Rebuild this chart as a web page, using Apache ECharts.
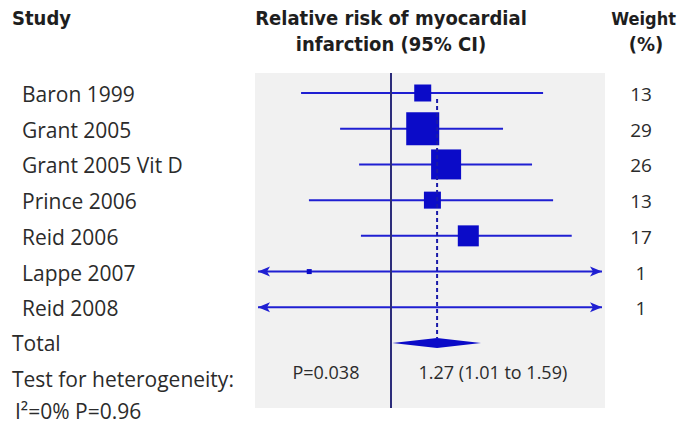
<!DOCTYPE html>
<html>
<head>
<meta charset="utf-8">
<script src="https://cdn.jsdelivr.net/npm/echarts@6/dist/echarts.min.js"></script>
<style>
html,body{margin:0;padding:0;background:#fff;}
#chart{width:677px;height:428px;}
</style>
</head>
<body>
<div id="chart"></div>
<script>
// ---- data ----
const studies = ['Baron 1999', 'Grant 2005', 'Grant 2005 Vit D', 'Prince 2006', 'Reid 2006', 'Lappe 2007', 'Reid 2008'];
const rr      = [1.18, 1.18, 1.33, 1.24, 1.49, 0.66, null];
const lower   = [0.633, 0.773, 0.852, 0.659, 0.86, 0.05, 0.05];
const upper   = [2.185, 1.78, 2.065, 2.30, 2.53, 10, 10];
const weights = [13, 29, 26, 13, 17, 1, 1];
const pooledRR = 1.27, pooledLower = 1.01, pooledUpper = 1.59;
const pooledText = '1.27 (1.01 to 1.59)';
const pText = 'P=0.038';
const footerRows = ['Total', 'Test for heterogeneity:', 'I\u00b2=0% P=0.96'];
const headers = {study: 'Study', effect: ['Relative risk of myocardial', 'infarction (95% CI)'], weight: ['Weight', '(%)']};

const BLUE = '#1f1fd2', SQ = '#0b0bc8', REF = '#2c2c7a', TXT = '#2b2b2b';
const FONT = "'Open Sans', 'Noto Sans', sans-serif";
const BOLD = "'Liberation Sans Narrow', 'DejaVu Sans Condensed', 'Roboto', sans-serif";

const chart = echarts.init(document.getElementById('chart'), null, {renderer: 'svg'});

function studyItem(params, api) {
  const i = params.dataIndex;
  const cs = params.coordSys;
  const y = api.coord([1, i])[1];
  let x0 = api.coord([lower[i], i])[0];
  let x1 = api.coord([upper[i], i])[0];
  const inset = 3;
  let aL = false, aR = false;
  if (x0 < cs.x + inset) { x0 = cs.x + inset; aL = true; }
  if (x1 > cs.x + cs.width - inset) { x1 = cs.x + cs.width - inset; aR = true; }
  const ch = [{type: 'line', shape: {x1: x0, y1: y, x2: x1, y2: y}, style: {stroke: BLUE, lineWidth: 2}}];
  if (aL) ch.push({type: 'polygon', shape: {points: [[x0, y], [x0 + 12, y - 5], [x0 + 9, y], [x0 + 12, y + 5]]}, style: {fill: BLUE}});
  if (aR) ch.push({type: 'polygon', shape: {points: [[x1, y], [x1 - 12, y - 5], [x1 - 9, y], [x1 - 12, y + 5]]}, style: {fill: BLUE}});
  if (rr[i] != null) {
    const s = 4 + weights[i];
    const cx = api.coord([rr[i], i])[0];
    ch.push({type: 'rect', shape: {x: cx - s / 2, y: y - s / 2, width: s, height: s}, style: {fill: SQ}});
  }
  return {type: 'group', children: ch};
}

function pooledItem(params, api) {
  const row = api.value(0);
  const y = api.coord([1, row])[1];
  const yTop = api.coord([1, 0])[1] + 6;
  const xl = api.coord([pooledLower, row])[0];
  const xc = api.coord([pooledRR, row])[0];
  const xr = api.coord([pooledUpper, row])[0];
  return {type: 'group', children: [
    {type: 'line', shape: {x1: xc, y1: yTop, x2: xc, y2: y - 5}, style: {stroke: '#1a1aa8', lineWidth: 2, lineDash: [4, 3]}},
    {type: 'polygon', shape: {points: [[xl, y], [xc, y - 5], [xr, y], [xc, y + 5]]}, style: {fill: SQ}}
  ]};
}

chart.setOption({
  animation: false,
  grid: {left: 255, width: 350, top: 73, height: 335, show: true, backgroundColor: '#f1f1f1', borderWidth: 0},
  xAxis: {type: 'log', min: 0.5, max: 3, show: false},
  yAxis: {type: 'value', inverse: true, min: -0.56, max: 8.82, show: false},
  series: [
    {
      type: 'custom', renderItem: studyItem, clip: false,
      data: studies.map((s, i) => [i, lower[i], upper[i]]),
      encode: {x: [1, 2], y: 0},
      markLine: {silent: true, symbol: 'none', label: {show: false},
        lineStyle: {color: REF, width: 2, type: 'solid'}, data: [{xAxis: 1}]}
    },
    {
      type: 'custom', renderItem: pooledItem, clip: false,
      data: [[studies.length, pooledLower, pooledUpper]],
      encode: {x: [1, 2], y: 0}
    }
  ]
});

// text laid out through the axes
function py(row) { return chart.convertToPixel({yAxisIndex: 0}, row); }
function px(v) { return chart.convertToPixel({xAxisIndex: 0}, v); }
const g = [];
const reg = {fontFamily: FONT, fontSize: 21, fill: TXT, textVerticalAlign: 'middle'};
studies.forEach((s, i) => {
  g.push({type: 'text', x: 22, y: py(i) + 1, style: Object.assign({text: s}, reg)});
  g.push({type: 'text', x: 641, y: py(i) + 1, style: Object.assign({text: String(weights[i]), textAlign: 'center'}, reg, {fontSize: 19})});
});
footerRows.forEach((s, k) => {
  g.push({type: 'text', x: k === 2 ? 15 : 12, y: py(studies.length + k) - (k === 2 ? 3 : 0), style: Object.assign({text: s}, reg)});
});
const midRow = studies.length + 0.8;
const small = {textAlign: 'center', textVerticalAlign: 'middle', fontFamily: FONT, fontSize: 18, fill: TXT};
g.push({type: 'text', x: px(0.719), y: py(midRow), style: Object.assign({text: pText}, small)});
g.push({type: 'text', x: px(1.69), y: py(midRow), style: Object.assign({text: pooledText}, small)});
const hb = {fontFamily: BOLD, fontSize: 20, fontWeight: 'bold', fill: '#1e1e1e', textVerticalAlign: 'middle'};
g.push({type: 'text', x: 12, y: 18, style: Object.assign({text: headers.study}, hb)});
g.push({type: 'text', x: 391, y: 18, style: Object.assign({text: headers.effect[0], textAlign: 'center'}, hb)});
g.push({type: 'text', x: 391, y: 44, style: Object.assign({text: headers.effect[1], textAlign: 'center'}, hb)});
g.push({type: 'text', x: 676, y: 18, style: Object.assign({text: headers.weight[0], textAlign: 'right'}, hb, {fontSize: 18})});
g.push({type: 'text', x: 646, y: 44, style: Object.assign({text: headers.weight[1], textAlign: 'center'}, hb)});
chart.setOption({graphic: g});
</script>
</body>
</html>
